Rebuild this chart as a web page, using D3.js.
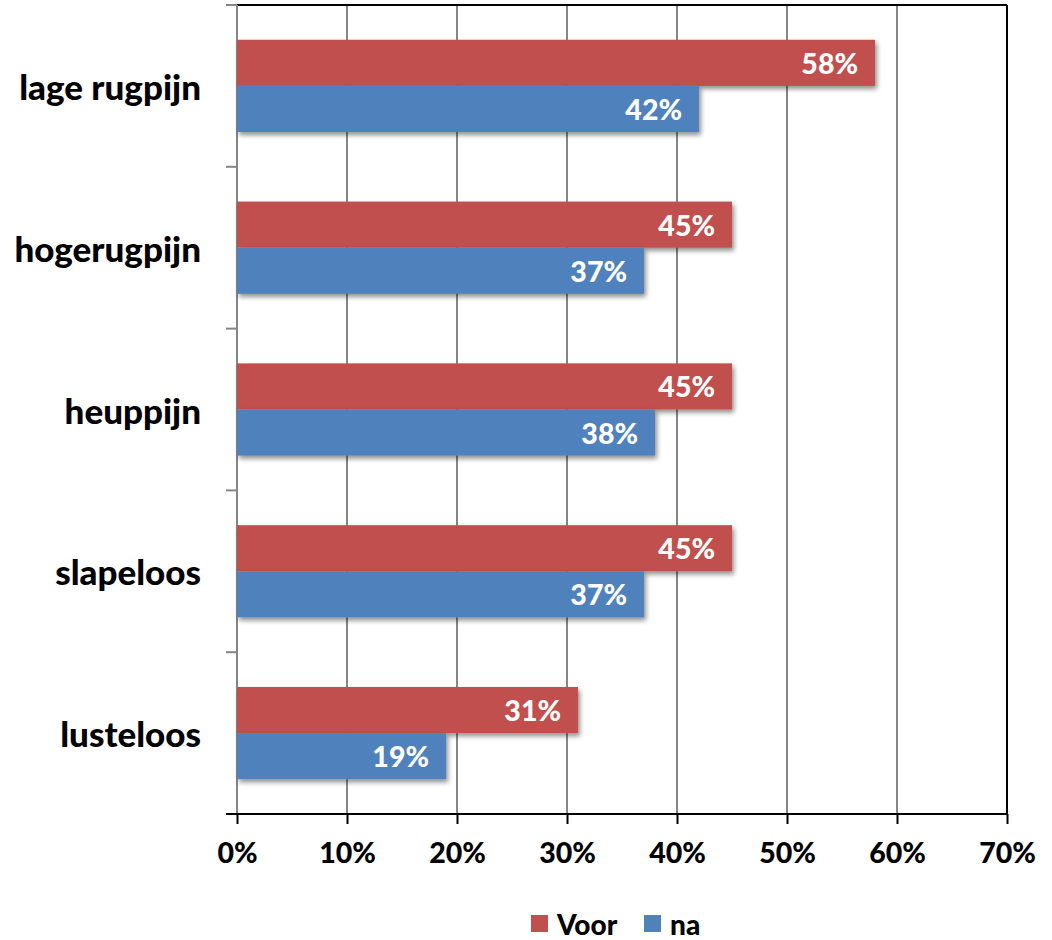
<!DOCTYPE html>
<html>
<head>
<meta charset="utf-8">
<script src="https://cdn.jsdelivr.net/npm/d3@7"></script>
<style>
  html, body { margin: 0; padding: 0; background: #fff; }
  svg { display: block; font-family: Lato, "Open Sans", sans-serif; }
</style>
</head>
<body>
<svg id="chart" width="1052" height="940"></svg>
<script>
// Complaint categories, top to bottom
const categories = ["lage rugpijn", "hogerugpijn", "heuppijn", "slapeloos", "lusteloos"];
// Share of respondents before ("Voor") and after ("na")
const voorValues = [58, 45, 45, 45, 31];
const naValues = [42, 37, 38, 37, 19];
const seriesNames = ["Voor", "na"];
const seriesColors = ["#C0504D", "#4F81BD"];
const xTicks = [0, 10, 20, 30, 40, 50, 60, 70];

const svg = d3.select("#chart");
const margin = { left: 237, right: 45, top: 5, bottom: 126 };
const W = 1052, H = 940;
const innerW = W - margin.left - margin.right;
const innerH = H - margin.top - margin.bottom;

const rows = categories.map((c, i) => ({ cat: c, values: [voorValues[i], naValues[i]] }));

const x = d3.scaleLinear().domain([0, 70]).range([0, innerW]);
const y = d3.scaleBand().domain(categories).range([0, innerH]).paddingInner(0.43).paddingOuter(0.215);
const ySub = d3.scaleBand().domain(seriesNames).range([0, y.bandwidth()]);

// Soft drop shadow under bars
const defs = svg.append("defs");
const f = defs.append("filter").attr("id", "shadow").attr("x", "-5%").attr("y", "-20%").attr("width", "115%").attr("height", "160%");
f.append("feGaussianBlur").attr("in", "SourceAlpha").attr("stdDeviation", 2.5).attr("result", "b");
f.append("feOffset").attr("in", "b").attr("dx", 2).attr("dy", 3).attr("result", "o");
f.append("feComponentTransfer").attr("in", "o").attr("result", "s")
  .append("feFuncA").attr("type", "linear").attr("slope", 0.45);
const m = f.append("feMerge");
m.append("feMergeNode").attr("in", "s");
m.append("feMergeNode").attr("in", "SourceGraphic");

const g = svg.append("g").attr("transform", `translate(${margin.left},${margin.top})`);

// Vertical gridlines
g.append("g").selectAll("line").data(xTicks.slice(1, -1)).join("line")
  .attr("x1", d => x(d)).attr("x2", d => x(d))
  .attr("y1", 0).attr("y2", innerH)
  .attr("stroke", "#868686").attr("stroke-width", 2);

// Plot frame: top and right
g.append("line").attr("x1", 0).attr("x2", innerW).attr("y1", 0).attr("y2", 0)
  .attr("stroke", "#000").attr("stroke-width", 2);
g.append("line").attr("x1", innerW).attr("x2", innerW).attr("y1", 0).attr("y2", innerH)
  .attr("stroke", "#000").attr("stroke-width", 2);

// Category axis (left)
const yAxisG = g.append("g");
yAxisG.append("line").attr("x1", 0).attr("x2", 0).attr("y1", 0).attr("y2", innerH)
  .attr("stroke", "#868686").attr("stroke-width", 2);
const bounds = d3.range(categories.length + 1).map(i => i * innerH / categories.length);
yAxisG.selectAll("line.tk").data(bounds).join("line").attr("class", "tk")
  .attr("x1", -11).attr("x2", 0).attr("y1", d => d).attr("y2", d => d)
  .attr("stroke", "#868686").attr("stroke-width", 2);
yAxisG.selectAll("text").data(categories).join("text")
  .attr("x", -36).attr("y", d => y(d) + y.bandwidth() / 2)
  .attr("text-anchor", "end").attr("dominant-baseline", "central")
  .attr("font-size", 35).attr("font-weight", 900).attr("fill", "#000")
  .text(d => d);

// Bars
const groups = g.selectAll("g.row").data(rows).join("g").attr("class", "row")
  .attr("transform", d => `translate(0,${y(d.cat)})`);
groups.selectAll("rect").data(d => d.values.map((v, i) => ({ v, s: seriesNames[i], i }))).join("rect")
  .attr("x", 0).attr("y", d => ySub(d.s))
  .attr("width", d => x(d.v)).attr("height", ySub.bandwidth())
  .attr("fill", d => seriesColors[d.i]).attr("filter", "url(#shadow)");
groups.selectAll("text").data(d => d.values.map((v, i) => ({ v, s: seriesNames[i], i }))).join("text")
  .attr("x", d => x(d.v) - 17).attr("y", d => ySub(d.s) + ySub.bandwidth() / 2)
  .attr("text-anchor", "end").attr("dominant-baseline", "central")
  .attr("font-size", 28.5).attr("font-weight", 900).attr("fill", "#fff")
  .text(d => d.v + "%");

// Value axis (bottom)
const xAxis = d3.axisBottom(x).tickValues(xTicks).tickFormat(d => d + "%").tickSize(10).tickPadding(19);
const xg = g.append("g").attr("transform", `translate(0,${innerH})`).call(xAxis);
xg.select(".domain").attr("stroke", "#000").attr("stroke-width", 2).attr("d", `M-11,0H${innerW}`);
xg.selectAll(".tick line").attr("stroke", "#000").attr("stroke-width", 2);
xg.selectAll(".tick text").attr("font-size", 28.5).attr("font-weight", 900).attr("fill", "#000")
  .attr("font-family", "Lato, 'Open Sans', sans-serif");

// Legend
const legend = svg.append("g").attr("transform", "translate(531,915)");
const items = [{ n: seriesNames[0], c: seriesColors[0], x: 0 }, { n: seriesNames[1], c: seriesColors[1], x: 113 }];
const li = legend.selectAll("g").data(items).join("g").attr("transform", d => `translate(${d.x},0)`);
li.append("rect").attr("width", 17).attr("height", 17).attr("fill", d => d.c);
li.append("text").attr("x", 26).attr("y", 9).attr("dominant-baseline", "central")
  .attr("font-size", 28).attr("font-weight", 900).attr("fill", "#000").text(d => d.n);
</script>
</body>
</html>
